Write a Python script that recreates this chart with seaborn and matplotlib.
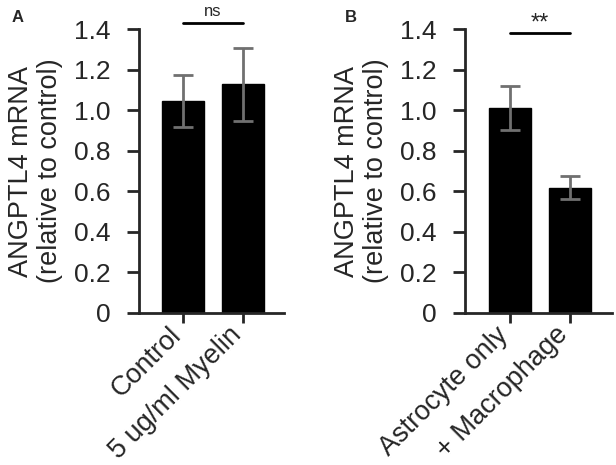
import numpy as np
import pandas as pd
import seaborn as sns
import matplotlib.pyplot as plt
import matplotlib.transforms as mtransforms

# panel A: myelin treatment
groups_a = ['Control', '5 ug/ml Myelin']
mean_a = [1.045, 1.128]
err_a = [0.127, 0.180]

# panel B: co-culture with macrophages
groups_b = ['Astrocyte only', '+ Macrophage']
mean_b = [1.010, 0.617]
err_b = [0.108, 0.057]

yticks = [0, 0.2, 0.4, 0.6, 0.8, 1.0, 1.2, 1.4]
ytick_labels = ['0', '0.2', '0.4', '0.6', '0.8', '1.0', '1.2', '1.4']

sns.set_style('ticks')
plt.rcParams['font.family'] = ['Liberation Sans', 'DejaVu Sans']

fig = plt.figure(figsize=(6.16, 4.65), dpi=100)
ax_a = fig.add_axes([0.2256, 0.3269, 0.2354, 0.6107])
ax_b = fig.add_axes([0.7549, 0.3269, 0.2380, 0.6107])


def draw_panel(ax, groups, means, errs, sig, sig_y, txt_y, txt_size):
    df = pd.DataFrame({'group': groups, 'value': means})
    sns.barplot(data=df, x='group', y='value', color='black', width=0.7,
                errorbar=None, saturation=1, edgecolor='black', ax=ax)
    ax.errorbar(range(len(groups)), means, yerr=errs, fmt='none',
                ecolor='#707070', elinewidth=2, capsize=7.5, capthick=2)
    ax.set_xlim(-0.74, 1.69)
    ax.set_ylim(0, 1.4)
    ax.set_yticks(yticks)
    ax.set_yticklabels(ytick_labels)
    ax.set_xlabel('')
    ax.set_ylabel('ANGPTL4 mRNA\n(relative to control)', fontsize=19.5,
                  linespacing=1.15, labelpad=8)
    ax.tick_params(axis='y', labelsize=19, width=2, length=8.5, pad=12)
    ax.tick_params(axis='x', labelsize=19.5, width=2, length=7, pad=6)
    # shift rotated labels a little to the left
    shift = mtransforms.ScaledTranslation(-4 / 72, 0, fig.dpi_scale_trans)
    for lab in ax.get_xticklabels():
        lab.set_rotation(45)
        lab.set_ha('right')
        lab.set_va('center')
        lab.set_rotation_mode('anchor')
        lab.set_transform(lab.get_transform() + shift)
    for s in ['left', 'bottom']:
        ax.spines[s].set_linewidth(2)
    sns.despine(ax=ax)
    # significance bracket
    ax.plot([0, 1], [sig_y, sig_y], color='black', lw=2, clip_on=False)
    ax.text(0.5, txt_y, sig, ha='center', va='bottom', fontsize=txt_size,
            clip_on=False)


draw_panel(ax_a, groups_a, mean_a, err_a, 'ns', 1.43, 1.45, 12)
draw_panel(ax_b, groups_b, mean_b, err_b, '**', 1.378, 1.375, 17)

fig.text(0.0195, 0.978, 'A', fontsize=12, fontweight='bold', va='top')
fig.text(0.56, 0.978, 'B', fontsize=12, fontweight='bold', va='top')

fig.savefig('out.png', dpi=100)
